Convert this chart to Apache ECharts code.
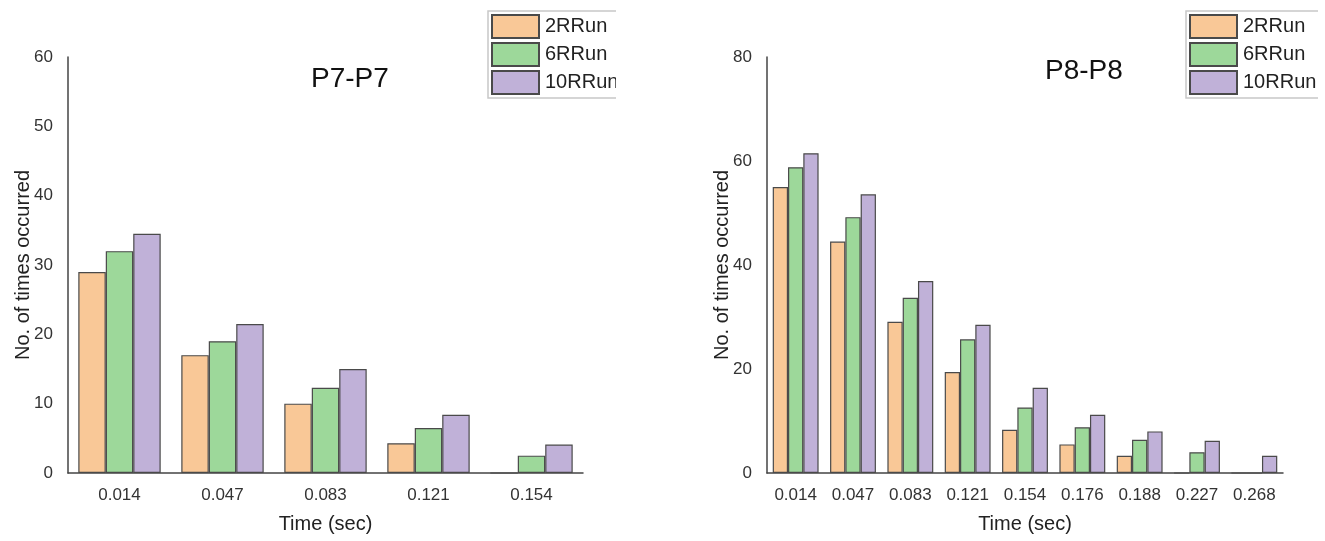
<!DOCTYPE html>
<html><head><meta charset="utf-8">
<script src="https://cdn.jsdelivr.net/npm/echarts@6/dist/echarts.min.js"></script>
<style>html,body{margin:0;padding:0;background:#fff;width:1325px;height:541px;overflow:hidden;position:relative}
#c1{position:absolute;left:0;top:0;width:616px;height:541px}
#c2{position:absolute;left:700px;top:0;width:618px;height:541px}</style>
</head><body>
<div id="c1"></div><div id="c2"></div>
<script>
const seriesNames = ['2RRun', '6RRun', '10RRun'];
const colors = ['#F9C897', '#9DD89A', '#C0B1D8'];

const catsP7 = ['0.014', '0.047', '0.083', '0.121', '0.154'];
const p7_2R = [29, 17, 10, 4.3, 0];
const p7_6R = [32, 19, 12.3, 6.5, 2.5];
const p7_10R = [34.5, 21.5, 15, 8.4, 4.1];

const catsP8 = ['0.014', '0.047', '0.083', '0.121', '0.154', '0.176', '0.188', '0.227', '0.268'];
const p8_2R = [55, 44.5, 29.1, 19.4, 8.3, 5.5, 3.3, 0, 0];
const p8_6R = [58.8, 49.2, 33.7, 25.7, 12.6, 8.8, 6.4, 4, 0];
const p8_10R = [61.5, 53.6, 36.9, 28.5, 16.4, 11.2, 8, 6.2, 3.3];

const FONT = '"Liberation Sans", Arial, sans-serif';

function makeOption(title, titleLeft, titleTop, cats, data, yMax, yInt, grid, legendLeft) {
  return {
    animation: false,
    textStyle: {fontFamily: FONT},
    title: {text: title, left: titleLeft, top: titleTop,
      textStyle: {fontFamily: FONT, fontSize: 28, fontWeight: 'normal', color: '#111'}},
    legend: {
      data: seriesNames, orient: 'vertical', left: legendLeft, top: 11,
      icon: 'rect', itemWidth: 47, itemHeight: 23, itemGap: 3,
      padding: [3, 4, 3, 3], borderColor: '#c8c8c8', borderWidth: 1.5,
      textStyle: {fontFamily: FONT, fontSize: 20, color: '#222', padding: [0, 0, 0, 1]}
    },
    grid: Object.assign({containLabel: false, outerBoundsMode: 'none'}, grid),
    xAxis: {
      type: 'category', data: cats,
      name: 'Time (sec)', nameLocation: 'middle', nameGap: 41, nameMoveOverlap: false,
      nameTextStyle: {fontFamily: FONT, fontSize: 20, color: '#222'},
      axisLine: {lineStyle: {color: '#444', width: 1.5}},
      axisTick: {show: false},
      axisLabel: {fontFamily: FONT, fontSize: 17, color: '#333', margin: 14}
    },
    yAxis: {
      type: 'value', min: 0, max: yMax, interval: yInt,
      name: 'No. of times occurred', nameLocation: 'middle', nameGap: 35, nameMoveOverlap: false,
      nameTextStyle: {fontFamily: FONT, fontSize: 20, color: '#222'},
      axisLine: {show: true, lineStyle: {color: '#444', width: 1.5}},
      axisTick: {show: false},
      splitLine: {show: false},
      axisLabel: {fontFamily: FONT, fontSize: 17, color: '#333', margin: 15}
    },
    series: data.map((d, i) => ({
      name: seriesNames[i], type: 'bar', data: d,
      barGap: '0%', barCategoryGap: '20%',
      itemStyle: {color: colors[i], borderColor: '#4a4a4a', borderWidth: 1.2}
    }))
  };
}

const ch1 = echarts.init(document.getElementById('c1'));
ch1.setOption(makeOption('P7-P7', 306, 60, catsP7, [p7_2R, p7_6R, p7_10R], 60, 10,
  {left: 68, right: 33, top: 57, bottom: 68}, 488));
const ch2 = echarts.init(document.getElementById('c2'));
ch2.setOption(makeOption('P8-P8', 340, 52, catsP8, [p8_2R, p8_6R, p8_10R], 80, 20,
  {left: 67, right: 35, top: 57, bottom: 68}, 486));
</script>
</body></html>
